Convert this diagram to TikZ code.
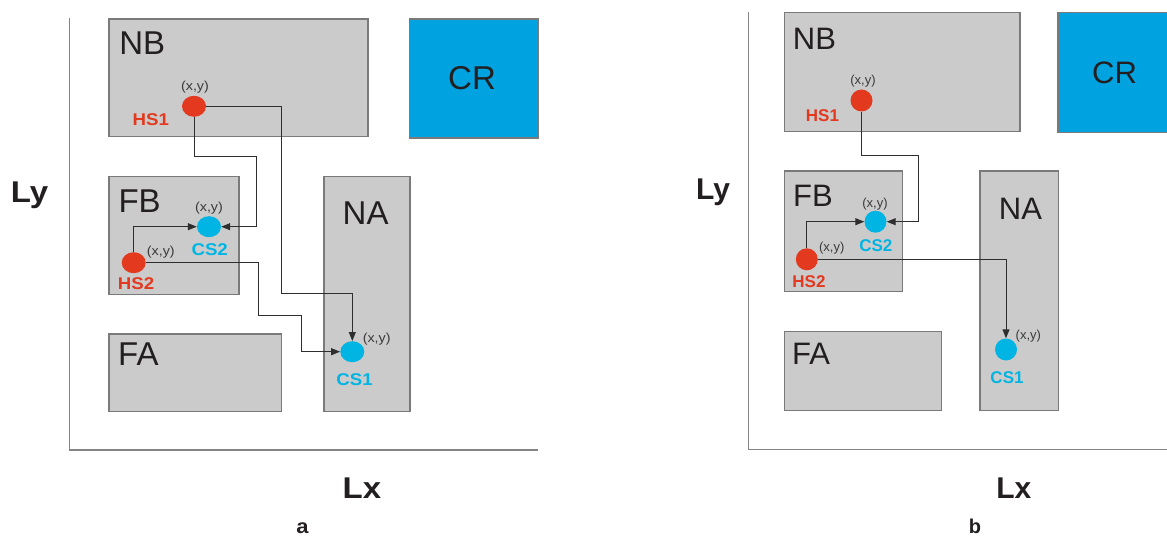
\documentclass[tikz,border=0pt]{standalone}
\usepackage{fontspec}
\setmainfont{Liberation Sans}
\newfontfamily\fa[FakeStretch=1.1]{Liberation Sans}
\newfontfamily\fb{Liberation Sans}
\usetikzlibrary{arrows.meta,shapes.geometric}
\definecolor{boxfill}{HTML}{CBCBCB}
\definecolor{boxline}{HTML}{7A7A7A}
\definecolor{crfill}{HTML}{00A2E0}
\definecolor{hot}{HTML}{E2391F}
\definecolor{cold}{HTML}{00B5E3}
\definecolor{txt}{HTML}{231F20}
\definecolor{small}{HTML}{3A3A3A}
\definecolor{axis}{HTML}{858585}
\definecolor{conn}{HTML}{2E2E2E}
\tikzset{
  box/.style={draw=boxline, fill=boxfill, line width=1.2pt, inner sep=0, anchor=north west},
  crbox/.style={draw=boxline, fill=crfill, line width=1.2pt, inner sep=0, anchor=north west},
  axisline/.style={draw=axis, line width=1.5pt},
  hs/.style={ellipse, fill=hot, inner sep=0},
  cs/.style={ellipse, fill=cold, inner sep=0},
  link/.style={draw=conn, line width=1pt, -{Triangle[length=9pt,width=7pt]}},
  bigA/.style={inner sep=0, text=txt, font=\fb\fontsize{33}{33}\selectfont},
  bigB/.style={inner sep=0, text=txt, font=\fb\fontsize{31}{31}\selectfont},
  hslab/.style={inner sep=0, text=hot, anchor=base, font=\fontsize{17}{17}\selectfont\bfseries},
  cslab/.style={inner sep=0, text=cold, anchor=base, font=\fontsize{17}{17}\selectfont\bfseries},
  xy/.style={inner sep=0, text=small, anchor=base, font=\fontsize{13}{13}\selectfont},
  axlab/.style={inner sep=0, text=txt, anchor=base, font=\fontsize{30}{30}\selectfont\bfseries},
  sublab/.style={inner sep=0, text=txt, anchor=base, font=\fontsize{20}{20}\selectfont\bfseries},
}
\begin{document}
\begin{tikzpicture}[x=1pt,y=-1pt]
\useasboundingbox (0,0) rectangle (1167,537);
% ================= panel a =================
\begin{scope}
\fa
\draw[axisline] (69.5,18.5) coordinate (ta) -- (69.5,450) coordinate (oa) -- (537.5,450) coordinate (ra);
\node[box, minimum width=259pt, minimum height=117.5pt] (nba) at (108.3,18.5) {};
\node[crbox, minimum width=128.5pt, minimum height=119pt] (cra) at (409,18.5) {};
\node[box, minimum width=130pt, minimum height=118.3pt] (fba) at (108.3,175.7) {};
\node[box, minimum width=86pt, minimum height=235.3pt] (naa) at (323.3,175.7) {};
\node[box, minimum width=172.4pt, minimum height=77.7pt] (faa) at (108.3,333.3) {};
\node[bigA, anchor=base west] (tnba) at (119.2,55) {NB};
\node[bigA, anchor=base] (tcra) at (472,89.5) {CR};
\node[bigA, anchor=base west] (tfba) at (118.3,212.5) {FB};
\node[bigA, anchor=base west] (tnaa) at (342.5,225) {NA};
\node[bigA, anchor=base west] (tfaa) at (118,365.5) {FA};
\node[hs, minimum width=24pt, minimum height=21pt] (hs1a) at (194,106.3) {};
\node[cs, minimum width=24pt, minimum height=21pt] (cs2a) at (209,226.7) {};
\node[hs, minimum width=24pt, minimum height=21pt] (hs2a) at (133.7,262.7) {};
\node[cs, minimum width=24pt, minimum height=21pt] (cs1a) at (352.3,351.7) {};
\node[xy] (xyhs1a) at (195,91) {(x,y)};
\node[hslab] (lhs1a) at (150.8,126) {HS1};
\node[xy] (xycs2a) at (209,211.5) {(x,y)};
\node[cslab] (lcs2a) at (209.7,256) {CS2};
\node[xy] (xyhs2a) at (160.8,256) {(x,y)};
\node[hslab] (lhs2a) at (136,290) {HS2};
\node[xy] (xycs1a) at (376.7,342.5) {(x,y)};
\node[cslab] (lcs1a) at (354.5,385.4) {CS1};
\draw[link] (hs1a.south) |- (256.7,157) |- (cs2a.east);
\draw[link] (hs1a.east) -| (281.7,294) -| (cs1a.north);
\draw[link] (hs2a.north) |- (cs2a.west);
\draw[link] (hs2a.east) -| (258.3,315.7) -- (301,315.7) |- (cs1a.west);
\node[axlab] (lxa) at (362,498) {Lx};
\node[axlab] (lya) at (29.5,203) {Ly};
\node[sublab] (suba) at (302.5,533) {a};
\end{scope}
% ================= panel b =================
\begin{scope}
\fb
\draw[axisline] (748.3,11.6) coordinate (tb) -- (748.3,449.3) coordinate (ob) -- (1167,449.3) coordinate (rb);
\node[box, minimum width=235.3pt, minimum height=119.4pt] (nbb) at (784,11.6) {};
\node[crbox, minimum width=112pt, minimum height=120.2pt] (crb) at (1057.3,11.6) {};
\node[box, minimum width=118pt, minimum height=120.2pt] (fbb) at (784,170.5) {};
\node[box, minimum width=78.4pt, minimum height=239.5pt] (nab) at (979.3,170.5) {};
\node[box, minimum width=156.7pt, minimum height=79pt] (fab) at (784,331) {};
\node[bigB, anchor=base west] (tnbb) at (792.7,49.5) {NB};
\node[bigB, anchor=base] (tcrb) at (1114.5,83.7) {CR};
\node[bigB, anchor=base west] (tfbb) at (793,207) {FB};
\node[bigB, anchor=base] (tnab) at (1020.5,220) {NA};
\node[bigB, anchor=base west] (tfab) at (792,364) {FA};
\node[hs, minimum width=22pt, minimum height=22pt] (hs1b) at (861.5,100.5) {};
\node[cs, minimum width=22pt, minimum height=22pt] (cs2b) at (875.5,221.7) {};
\node[hs, minimum width=22pt, minimum height=22pt] (hs2b) at (806.8,259.3) {};
\node[cs, minimum width=22pt, minimum height=22pt] (cs1b) at (1006,349.5) {};
\node[xy] (xyhs1b) at (863,84.5) {(x,y)};
\node[hslab] (lhs1b) at (822.5,121.5) {HS1};
\node[xy] (xycs2b) at (875,207.5) {(x,y)};
\node[cslab] (lcs2b) at (875.8,251.7) {CS2};
\node[xy] (xyhs2b) at (831.7,252) {(x,y)};
\node[hslab] (lhs2b) at (809,287.3) {HS2};
\node[xy] (xycs1b) at (1028.3,339) {(x,y)};
\node[cslab] (lcs1b) at (1007,383.7) {CS1};
\draw[link] (hs1b.south) |- (918.3,155.7) |- (cs2b.east);
\draw[link] (hs2b.north) |- (cs2b.west);
\draw[link] (hs2b.east) -| (cs1b.north);
\node[axlab] (lxb) at (1013.8,498) {Lx};
\node[axlab] (lyb) at (713,200) {Ly};
\node[sublab] (subb) at (975,533) {b};
\end{scope}
\end{tikzpicture}
\end{document}
